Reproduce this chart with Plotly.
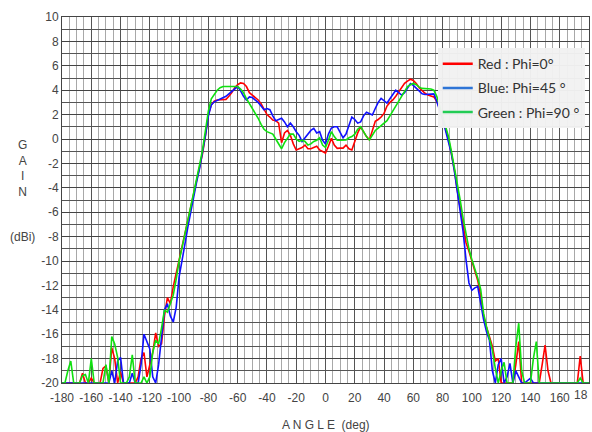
import plotly.graph_objects as go

angle = list(range(-180, 181, 2))

red = [
    -20, -20, -20, -20, -20, -20, -20, -19.2, -20, -20,
    -19.6, -20, -20, -20, -18.8, -18.6, -20, -17.1, -18.0, -20,
    -19.1, -20, -20, -20, -20, -20, -19.5, -18.0, -17.5, -19.5,
    -18.5, -17.5, -15.9, -17.0, -16.8, -14.5, -13.0, -13.5, -12.1, -11.0,
    -9.9, -8.8, -7.8, -6.7, -5.6, -4.5, -3.4, -2.3, -1.2, 0.3,
    2.0, 2.8, 3.1, 3.2, 3.2, 3.25, 3.25, 3.5, 3.8, 4.2,
    4.45, 4.6, 4.55, 4.3, 3.8, 3.6, 3.4, 3.2, 2.9, 2.5,
    2.0, 1.8, 1.55, 1.5, 1.3, -0.3, 0.5, 0.7, 0.3, -0.4,
    -0.9, -0.8, -0.7, -0.5, -0.8, -0.8, -0.7, -0.6, -0.9, -1.0,
    -1.15, -0.6, 0.05, -0.5, -0.77, -0.75, -0.75, -0.5, -0.8, -0.9,
    -0.2, 0.5, 1.0, 0.6, 0.2, -0.08, 0.8, 1.45, 1.6, 1.8,
    2.1, 2.7, 3.0, 3.2, 3.5, 3.85, 4.2, 4.56, 4.75, 4.9,
    4.8, 4.55, 4.2, 3.95, 3.75, 3.6, 3.5, 3.45, 3.1, 2.5,
    1.7, 0.9, 0.0, -1.2, -2.5, -4.2, -5.6, -7.0, -8.5, -9.2,
    -10.0, -10.6, -11.6, -12.8, -14.5, -15.4, -16.2, -17.0, -18.2, -18.0,
    -20, -20, -20, -20, -20, -18.5, -16.6, -20, -20, -20,
    -20, -20, -20, -20, -18.5, -16.9, -19.0, -20, -20, -20,
    -20, -20, -20, -20, -20, -20, -20, -17.8, -20, -20, -20,
]

blue = [
    -20, -20, -20, -20, -20, -20, -20, -20, -20, -20,
    -20, -20, -20, -20, -20, -20, -20, -19.0, -20, -18.2,
    -17.9, -20, -20, -20, -19.2, -20, -20, -18.5, -16.0, -16.6,
    -17.2, -19.5, -20, -18.5, -16.0, -14.0, -13.5, -14.5, -15.0, -13.8,
    -11.3, -9.8, -8.6, -7.2, -5.9, -4.7, -3.5, -2.4, -1.2, 0.3,
    1.9, 2.8, 3.05, 3.15, 3.25, 3.35, 3.5, 3.7, 3.9, 4.15,
    4.3, 3.95, 3.5, 3.2, 3.45, 3.4, 3.2, 3.0, 2.7, 2.4,
    2.5, 2.4, 1.9, 1.5, 1.6, 1.7, 1.4, 1.0, 1.3, 1.0,
    0.6, 0.3, -0.2, 0.1, 0.4, 0.7, 0.87, 0.5, 0.6, -0.1,
    -0.4, 0.4, 0.9, 1.0, 1.0, 0.6, 0.1, 0.4, 1.2, 1.8,
    1.6, 1.3, 1.4, 1.9, 2.2, 2.1, 1.97, 2.5, 3.0, 3.33,
    3.1, 2.95, 3.3, 3.7, 4.0, 3.8, 3.6, 3.8, 4.2, 4.55,
    4.4, 4.15, 3.9, 3.7, 3.65, 3.65, 3.7, 3.7, 3.1, 2.4,
    1.6, 0.7, -0.3, -1.2, -2.6, -4.3, -5.8, -7.6, -9.9, -11.8,
    -12.4, -12.2, -12.1, -13.5, -14.8, -15.8, -16.5, -19.0, -20, -18.5,
    -18.0, -20, -19.5, -18.4, -20, -19.0, -19.5, -20, -20, -19.8,
    -19.6, -20, -20, -20, -20, -20, -20, -20, -20, -20,
    -20, -20, -20, -20, -20, -20, -20, -20, -20, -20, -20,
]

green = [
    -20, -20, -19.0, -18.2, -20, -20, -20, -19.4, -19.3, -20,
    -18.0, -20, -20, -20, -20, -18.5, -20, -16.2, -16.8, -17.9,
    -20, -20, -20, -19.5, -17.7, -20, -20, -20, -19.5, -20,
    -19.5, -17.5, -16.5, -16.8, -15.5, -14.0, -14.2, -13.5, -12.8, -11.5,
    -10.0, -8.9, -7.8, -6.6, -5.5, -4.4, -3.3, -2.1, -0.9, 0.8,
    2.3, 3.3, 3.7, 4.0, 4.2, 4.3, 4.3, 4.3, 4.35, 4.35,
    4.3, 4.1, 3.8, 3.3, 2.9, 2.6, 2.2, 1.7, 1.2, 0.8,
    0.6, 0.5, 0.4, 0.0, -0.4, -0.8, -0.3, 0.1, 0.4, 0.4,
    0.0, -0.2, -0.1, -0.2, -0.5, -0.4, -0.2, -0.1, 0.1, -0.5,
    -0.7, -0.1, 0.6, 0.2, -0.1, -0.1, -0.1, -0.08, 0.1, 0.2,
    0.4, 0.8, 1.0, 0.6, 0.2, -0.08, 0.3, 0.7, 0.9, 1.1,
    1.3, 1.5, 1.9, 2.3, 2.7, 3.2, 3.6, 4.0, 4.3, 4.45,
    4.55, 4.45, 4.25, 4.15, 4.15, 4.15, 4.1, 4.0, 3.5, 2.7,
    1.9, 1.1, 0.2, -1.0, -2.3, -3.5, -5.0, -6.5, -7.9, -9.0,
    -9.9, -10.6, -11.4, -12.3, -14.3, -15.4, -16.3, -17.3, -18.8, -20,
    -19.0, -18.3, -20, -20, -20, -17.0, -15.1, -19.0, -20, -20,
    -20, -18.0, -16.6, -20, -20, -20, -20, -20, -20, -20,
    -20, -20, -20, -20, -20, -20, -20, -19.6, -20, -20, -20,
]

series_names = ["Red : Phi=0\u00b0", "Blue: Phi=45 \u00b0", "Green : Phi=90 \u00b0"]
line_colors = ["#ff0000", "#1010ff", "#10e010"]
legend_colors = ["#ff0000", "#2e75d6", "#22cc55"]

x_ticks = list(range(-180, 161, 20))
y_ticks = list(range(-20, 11, 2))

fig = go.Figure()
for vals, col in zip([red, blue, green], line_colors):
    fig.add_trace(go.Scatter(x=angle, y=vals, mode="lines",
                             line=dict(color=col, width=1.6),
                             showlegend=False, hoverinfo="skip"))
for i, (name, col) in enumerate(zip(series_names, legend_colors)):
    fig.add_trace(go.Scatter(x=[None], y=[None], mode="lines", name=name,
                             legendgroup="g%d" % i,
                             line=dict(color=col, width=2.5)))

tick_font = dict(family="Liberation Sans Narrow, Arial Narrow, sans-serif", size=12, color="#444")

fig.update_layout(
    width=592, height=432,
    margin=dict(l=62, r=3, t=17, b=49, autoexpand=False),
    paper_bgcolor="white", plot_bgcolor="white",
    xaxis=dict(range=[-180, 180], tickvals=x_ticks, ticktext=[str(v) for v in x_ticks],
               showgrid=True, gridcolor="#555", gridwidth=1,
               minor=dict(dtick=5, tick0=0, showgrid=True, gridcolor="#a8a8a8", gridwidth=1),
               showline=True, linecolor="#444", linewidth=1, mirror=True,
               ticks="", zeroline=False, tickfont=tick_font, ticklabelstandoff=4,
               automargin=False),
    yaxis=dict(range=[-20, 10], tickvals=y_ticks, ticktext=[str(v) for v in y_ticks],
               showgrid=True, gridcolor="#444", gridwidth=1,
               minor=dict(dtick=1, tick0=0, showgrid=True, gridcolor="#555", gridwidth=1),
               showline=True, linecolor="#444", linewidth=1, mirror=True,
               ticks="", zeroline=False, tickfont=tick_font, automargin=False),
    legend=dict(x=0.713, y=0.915, xanchor="left", yanchor="top",
                bgcolor="rgba(242,242,242,0.97)", borderwidth=0,
                font=dict(family="Lato, sans-serif", size=14, color="#333"),
                traceorder="grouped", tracegroupgap=3, itemwidth=30),
    showlegend=True,
)

fig.add_annotation(xref="paper", yref="paper", x=1, y=0, yshift=-12, xshift=1,
                   xanchor="right", yanchor="middle",
                   text="18", showarrow=False, font=tick_font)

lab_font = dict(family="Liberation Sans Narrow, Arial Narrow, sans-serif", size=12, color="#444")
fig.add_annotation(xref="paper", yref="paper", x=-0.075, y=0.585, xanchor="center", yanchor="middle",
                   text="G<br>A<br>I<br>N", showarrow=False, font=lab_font)
fig.add_annotation(xref="paper", yref="paper", x=-0.075, y=0.40, xanchor="center", yanchor="middle",
                   text="(dBi)", showarrow=False, font=lab_font)
fig.add_annotation(xref="paper", yref="paper", x=0.5, y=-0.115, xanchor="center", yanchor="middle",
                   text="A N G L E  (deg)", showarrow=False, font=lab_font)

fig.write_html("out.html")
